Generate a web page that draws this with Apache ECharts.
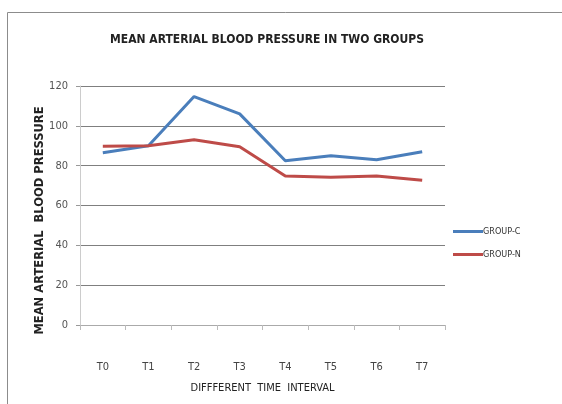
<!DOCTYPE html>
<html>
<head>
<meta charset="utf-8">
<script src="https://cdn.jsdelivr.net/npm/echarts@6/dist/echarts.min.js"></script>
<style>
  html, body { margin: 0; padding: 0; background: #fff; }
  #chart { width: 562px; height: 404px; }
</style>
</head>
<body>
<div id="chart"></div>
<script>
// time points
const categories = ['T0', 'T1', 'T2', 'T3', 'T4', 'T5', 'T6', 'T7']
// mean arterial pressure per group
const groupC = [86.5, 90, 114.7, 106, 82.5, 85, 83, 87]
const groupN = [89.8, 90, 93, 89.5, 74.8, 74.2, 74.8, 72.7]
const yTicks = [0, 20, 40, 60, 80, 100, 120]

const narrow = "'Liberation Sans Narrow', 'DejaVu Sans Condensed', sans-serif"

const chart = echarts.init(document.getElementById('chart'))
chart.setOption({
  animation: false,
  color: ['#4A7EBB', '#BE4B48'],
  graphic: [
    {
      type: 'rect',
      shape: { x: 7.5, y: 12.5, width: 560, height: 400 },
      style: { fill: 'none', stroke: '#8c8c8c', lineWidth: 1 }
    }
  ],
  title: {
    text: 'MEAN ARTERIAL BLOOD PRESSURE IN TWO GROUPS',
    left: 262,
    textAlign: 'center',
    top: 29,
    textStyle: {
      fontFamily: narrow,
      fontSize: 12,
      fontWeight: 'bold',
      color: '#222'
    }
  },
  legend: {
    orient: 'vertical',
    left: 448,
    top: 222,
    itemGap: 14,
    itemWidth: 30,
    itemHeight: 3,
    icon: 'rect',
    textStyle: { fontFamily: narrow, fontSize: 9, color: '#333', padding: [0, 0, 0, -5] },
    data: ['GROUP-C', 'GROUP-N']
  },
  grid: {
    left: 80,
    right: 117,
    top: 86,
    bottom: 79
  },
  xAxis: {
    type: 'category',
    data: categories,
    name: 'DIFFFERENT  TIME  INTERVAL',
    nameLocation: 'middle',
    nameGap: 58,
    nameMoveOverlap: false,
    nameTextStyle: { fontFamily: narrow, fontSize: 11, color: '#222' },
    axisLine: { lineStyle: { color: '#aaa' } },
    axisTick: { show: true, length: 5, lineStyle: { color: '#bbb' } },
    axisLabel: {
      margin: 37,
      fontFamily: narrow,
      fontSize: 11,
      color: '#444'
    }
  },
  yAxis: {
    type: 'value',
    min: yTicks[0],
    max: yTicks[yTicks.length - 1],
    interval: 20,
    name: 'MEAN ARTERIAL  BLOOD PRESSURE',
    nameLocation: 'middle',
    nameGap: 34,
    nameMoveOverlap: false,
    nameTextStyle: {
      fontFamily: 'DejaVu Sans, sans-serif',
      fontSize: 11.5,
      fontWeight: 'bold',
      color: '#222',
      padding: [0, 30, 0, 0]
    },
    axisLine: { show: true, lineStyle: { color: '#ccc' } },
    axisTick: { show: true, length: 4, lineStyle: { color: '#999' } },
    axisLabel: {
      margin: 12,
      fontFamily: narrow,
      fontSize: 11,
      color: '#555'
    },
    splitLine: { lineStyle: { color: '#7f7f7f', width: 1 } }
  },
  series: [
    {
      name: 'GROUP-C',
      type: 'line',
      data: groupC,
      symbol: 'none',
      lineStyle: { width: 3 }
    },
    {
      name: 'GROUP-N',
      type: 'line',
      data: groupN,
      symbol: 'none',
      lineStyle: { width: 3 }
    }
  ]
})
</script>
</body>
</html>
